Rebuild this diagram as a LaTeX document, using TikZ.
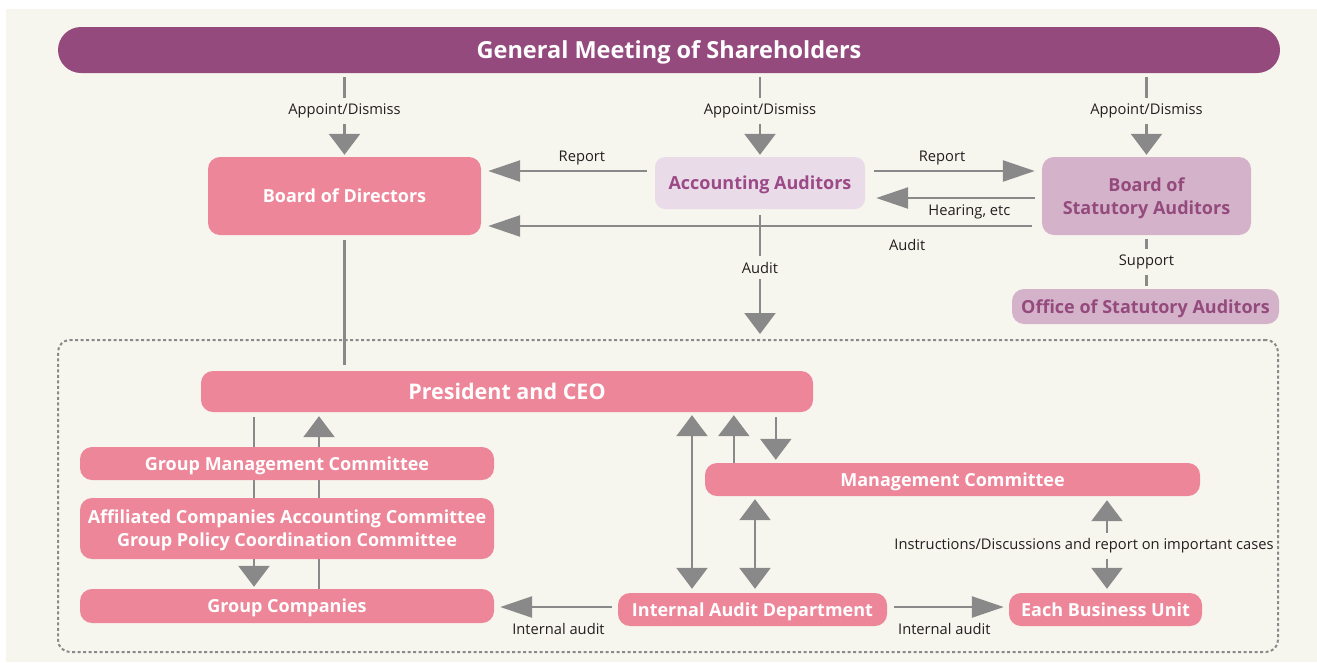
\documentclass[tikz,border=0pt]{standalone}
\usepackage{fontspec}
\setmainfont{Open Sans}
\usetikzlibrary{arrows.meta,backgrounds}
\definecolor{cBg}{HTML}{F7F6EE}
\definecolor{cPur}{HTML}{944A7D}
\definecolor{cPink}{HTML}{EE8699}
\definecolor{cAA}{HTML}{E9DCE8}
\definecolor{cAAt}{HTML}{9B4A87}
\definecolor{cBSA}{HTML}{D4B3CA}
\definecolor{cGr}{HTML}{898989}
\definecolor{cLbl}{HTML}{231F20}
\pgfdeclarelayer{bgl}
\pgfdeclarelayer{lines}
\pgfsetlayers{bgl,lines,main}
\begin{document}
\begin{tikzpicture}[x=1pt,y=-1pt,
  box/.style={rectangle, rounded corners=12pt, fill=cPink, text=white, inner sep=0pt, align=center,
    text depth=0pt, font=\bfseries\fontsize{18}{23}\selectfont},
  lbl/.style={font=\fontsize{14.7}{16}\selectfont, text=cLbl, inner sep=2pt},
  gaplbl/.style={lbl, fill=cBg, inner xsep=2pt, inner ysep=6pt},
  conn/.style={draw=cGr, line width=2.5pt},
  va/.style={-{Triangle[length=21pt,width=31pt]}},
  ha/.style={-{Triangle[length=32pt,width=21pt]}},
  vda/.style={{Triangle[length=21pt,width=31pt]}-{Triangle[length=21pt,width=31pt]}}
]
\useasboundingbox (0,0) rectangle (1317,662);
\begin{pgfonlayer}{bgl}
\fill[white] (0,0) rectangle (1317,662);
\fill[cBg] (6,9) rectangle (1317,662);
\end{pgfonlayer}

% nodes
\node[box, fill=cPur, minimum width=1222pt, minimum height=46pt, rounded corners=23pt,
  font=\bfseries\fontsize{23.5}{26}\selectfont] (gm) at (669,50) {General Meeting of Shareholders};
\node[box, minimum width=273pt, minimum height=78pt] (bod) at (344.5,196) {Board of Directors};
\node[box, fill=cAA, text=cAAt, rounded corners=10pt, minimum width=210pt, minimum height=52pt] (aa) at (760,183) {Accounting Auditors};
\node[box, fill=cBSA, text=cPur, minimum width=209pt, minimum height=78pt] (bsa) at (1146.5,196) {Board of\\Statutory Auditors};
\node[box, fill=cBSA, text=cPur, minimum width=267pt, minimum height=35pt] (osa) at (1145.5,306.5) {Office of Statutory Auditors};
\node[draw=cGr, line width=2pt, dash pattern=on 3pt off 2.5pt, rounded corners=12pt,
  minimum width=1220pt, minimum height=312pt, inner sep=0pt] (grp) at (668,496) {};
\node[box, minimum width=612pt, minimum height=41pt, font=\bfseries\fontsize{21.5}{24}\selectfont] (ceo) at (507,391.5) {President and CEO};
\node[box, minimum width=414pt, minimum height=33pt] (gmc) at (287,463.5) {Group Management Committee};
\node[box, minimum width=414pt, minimum height=61pt] (acc) at (287,528.5) {Affiliated Companies Accounting Committee\\Group Policy Coordination Committee};
\node[box, minimum width=414pt, minimum height=34pt] (gc) at (287,606) {Group Companies};
\node[box, minimum width=269pt, minimum height=33pt] (iad) at (752.5,609.5) {Internal Audit Department};
\node[box, minimum width=495pt, minimum height=33pt] (mc) at (952.5,479.5) {Management Committee};
\node[box, minimum width=193pt, minimum height=33pt] (ebu) at (1105.5,609.5) {Each Business Unit};

% top connectors
\foreach \n in {bod,aa,bsa}
  \draw[conn,va,shorten <=4pt,shorten >=2pt] (gm.south -| \n.north) -- node[gaplbl,pos=0.45]{Appoint/Dismiss} (\n.north);

\draw[conn,ha,shorten <=8pt,shorten >=7pt] ([yshift=12pt]aa.west) -- node[lbl,above=3pt,pos=0.42]{Report} ([yshift=12pt]aa.west -| bod.east);
\draw[conn,ha,shorten <=9pt,shorten >=7pt] ([yshift=12pt]aa.east) -- node[lbl,above=3pt,pos=0.435]{Report} ([yshift=12pt]aa.east -| bsa.west);
\draw[conn,ha,shorten <=7pt,shorten >=11pt] ([yshift=-15pt]aa.east -| bsa.west) -- node[lbl,below=3pt,pos=0.41]{Hearing, etc} ([yshift=-15pt]aa.east);
\draw[conn,ha,shorten <=10pt,shorten >=7pt] ([yshift=-30pt]bsa.west) -- node[lbl,below=10pt,pos=0.24]{Audit} ([yshift=-30pt]bsa.west -| bod.east);
\draw[conn,va,shorten <=6pt,shorten >=5pt] (aa.south) -- node[gaplbl,pos=0.45]{Audit} (aa.south |- grp.north);
\draw[conn,shorten <=4pt,shorten >=3pt] (bsa.south) -- node[gaplbl,pos=0.5]{Support} (bsa.south |- osa.north);

% lines behind boxes
\begin{pgfonlayer}{lines}
\draw[conn,shorten <=5pt,shorten >=6pt] (bod.south) -- (bod.south |- ceo.north);
\draw[conn,va,shorten <=5pt,shorten >=2pt] ([xshift=-33pt]gc.north |- ceo.south) -- ([xshift=-33pt]gc.north);
\draw[conn,va,shorten >=4pt] ([xshift=32pt]gc.north) -- ([xshift=32pt]gc.north |- ceo.south);
\end{pgfonlayer}

% right group connectors
\draw[conn,vda,shorten <=4pt,shorten >=3pt] ([xshift=-60.5pt]iad.north) -- ([xshift=-60.5pt]iad.north |- ceo.south);
\draw[conn,va,shorten >=3pt] ([xshift=29pt]mc.north west) -- ([xshift=29pt]mc.north west |- ceo.south);
\draw[conn,va,shorten <=5pt,shorten >=3pt] ([xshift=71pt]mc.north west |- ceo.south) -- ([xshift=71pt]mc.north west);
\draw[conn,vda,shorten <=4pt,shorten >=3pt] ([xshift=2.5pt]iad.north) -- ([xshift=2.5pt]iad.north |- mc.south);
\draw[conn,vda,shorten <=4pt,shorten >=4pt] ([xshift=1.5pt]ebu.north) -- ([xshift=1.5pt]ebu.north |- mc.south);
\node[gaplbl] (instr) at (1084,546) {Instructions/Discussions and report on important cases};
\draw[conn,ha,shorten <=6pt,shorten >=6pt] ([yshift=2.5pt]iad.west) -- node[lbl,below=13pt,pos=0.48]{Internal audit} ([yshift=2.5pt]iad.west -| gc.east);
\draw[conn,ha,shorten <=7pt,shorten >=5pt] ([yshift=2.5pt]iad.east) -- node[lbl,below=13pt,pos=0.47]{Internal audit} ([yshift=2.5pt]iad.east -| ebu.west);
\end{tikzpicture}
\end{document}
